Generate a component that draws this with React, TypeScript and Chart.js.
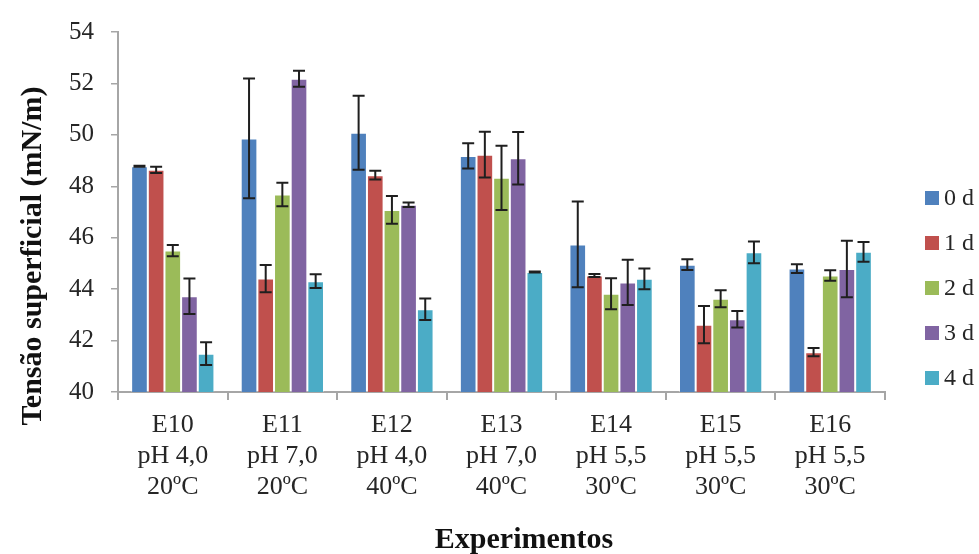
import React, { useEffect, useRef } from "react";
import { Chart, registerables } from "chart.js";

Chart.register(...registerables);

const categories: string[][] = [
  ["E10", "pH 4,0", "20ºC"],
  ["E11", "pH 7,0", "20ºC"],
  ["E12", "pH 4,0", "40ºC"],
  ["E13", "pH 7,0", "40ºC"],
  ["E14", "pH 5,5", "30ºC"],
  ["E15", "pH 5,5", "30ºC"],
  ["E16", "pH 5,5", "30ºC"],
];

const seriesNames = ["0 d", "1 d", "2 d", "3 d", "4 d"];
const seriesColors = ["#4F81BD", "#C0504D", "#9BBB59", "#8064A2", "#4BACC6"];

const day0 = [48.78, 49.86, 50.08, 49.18, 45.74, 44.95, 44.8];
const day1 = [48.64, 44.41, 48.43, 49.23, 44.53, 42.62, 41.55];
const day2 = [45.5, 47.68, 47.08, 48.33, 43.82, 43.63, 44.53];
const day3 = [43.72, 52.18, 47.28, 49.09, 44.26, 42.83, 44.78];
const day4 = [41.49, 44.31, 43.22, 44.67, 44.4, 45.43, 45.45];

const err0 = [0.02, 2.33, 1.44, 0.49, 1.67, 0.21, 0.17];
const err1 = [0.12, 0.53, 0.17, 0.89, 0.06, 0.72, 0.16];
const err2 = [0.22, 0.46, 0.54, 1.25, 0.6, 0.33, 0.2];
const err3 = [0.69, 0.31, 0.09, 1.02, 0.88, 0.32, 1.1];
const err4 = [0.44, 0.27, 0.42, 0.02, 0.4, 0.42, 0.38];

const yTicks = [40, 42, 44, 46, 48, 50, 52, 54];

const values = [day0, day1, day2, day3, day4];
const errors = [err0, err1, err2, err3, err4];

const FONT = "'Liberation Serif', 'Times New Roman', serif";
const TEXT = "#262626";
const AXIS = "#A6A6A6";

const errorBarPlugin = {
  id: "errorBars",
  afterDatasetsDraw(chart: any) {
    const ctx = chart.ctx;
    const yScale = chart.scales.y;
    ctx.save();
    ctx.strokeStyle = "#1F1F1F";
    ctx.lineWidth = 2;
    chart.data.datasets.forEach((ds: any, i: number) => {
      const meta = chart.getDatasetMeta(i);
      meta.data.forEach((bar: any, j: number) => {
        const v = ds.data[j];
        const e = errors[i][j];
        const x = bar.x;
        const yTop = yScale.getPixelForValue(v + e);
        const yBot = yScale.getPixelForValue(v - e);
        const cap = 6;
        ctx.beginPath();
        ctx.moveTo(x, yTop);
        ctx.lineTo(x, yBot);
        ctx.moveTo(x - cap, yTop);
        ctx.lineTo(x + cap, yTop);
        ctx.moveTo(x - cap, yBot);
        ctx.lineTo(x + cap, yBot);
        ctx.stroke();
      });
    });
    ctx.restore();
  },
};

const decorPlugin = {
  id: "decor",
  afterDraw(chart: any) {
    const ctx = chart.ctx;
    ctx.save();
    // legend
    ctx.font = `24px ${FONT}`;
    ctx.textBaseline = "middle";
    ctx.textAlign = "left";
    seriesNames.forEach((name, i) => {
      const cy = 198 + i * 45;
      ctx.fillStyle = seriesColors[i];
      ctx.fillRect(925, cy - 7, 14, 14);
      ctx.fillStyle = TEXT;
      ctx.fillText(name, 944, cy + 1);
    });
    // axis titles
    ctx.font = `bold 30px ${FONT}`;
    ctx.fillStyle = "#111";
    ctx.textAlign = "center";
    ctx.textBaseline = "alphabetic";
    ctx.fillText("Experimentos", 524, 548);
    ctx.font = `bold 30px ${FONT}`;
    ctx.textBaseline = "alphabetic";
    ctx.translate(41, 256);
    ctx.rotate(-Math.PI / 2);
    ctx.fillText("Tensão superficial (mN/m)", 0, 0);
    ctx.restore();
  },
};

export default function App() {
  const ref = useRef<HTMLCanvasElement>(null);
  useEffect(() => {
    if (!ref.current) return;
    const chart = new Chart(ref.current, {
      type: "bar",
      data: {
        labels: categories,
        datasets: seriesNames.map((name, i) => ({
          label: name,
          data: values[i],
          backgroundColor: seriesColors[i],
          borderColor: "rgba(255,255,255,0.35)",
          borderWidth: 1,
          categoryPercentage: 0.76,
          barPercentage: 1,
        })),
      },
      options: {
        animation: false,
        responsive: false,
        maintainAspectRatio: false,
        layout: { padding: { left: 0, right: 94, top: 28, bottom: 0 } },
        plugins: {
          legend: { display: false },
          tooltip: { enabled: false },
        },
        scales: {
          x: {
            grid: {
              display: true,
              drawOnChartArea: false,
              drawTicks: true,
              tickLength: 8,
              color: AXIS,
              lineWidth: 2,
              offset: true,
            },
            border: { display: true, color: AXIS, width: 2 },
            ticks: {
              color: TEXT,
              font: { family: FONT, size: 26, lineHeight: 1.19 },
              padding: 10,
              maxRotation: 0,
              autoSkip: false,
            },
            afterFit(scale: any) {
              scale.height = 554 - 392;
            },
          },
          y: {
            min: 40,
            max: 54,
            afterBuildTicks(scale: any) {
              scale.ticks = yTicks.map((v) => ({ value: v }));
            },
            grid: {
              display: true,
              drawOnChartArea: false,
              drawTicks: true,
              tickLength: 7,
              color: AXIS,
              lineWidth: 1.5,
            },
            border: { display: true, color: AXIS, width: 2 },
            ticks: {
              color: TEXT,
              font: { family: FONT, size: 25 },
              padding: 17,
            },
            afterFit(scale: any) {
              scale.width = 118;
            },
          },
        },
      },
      plugins: [errorBarPlugin, decorPlugin],
    });
    return () => chart.destroy();
  }, []);
  return (
    <div style={{ position: "absolute", left: 0, top: 0, width: 979, height: 554 }}>
      <canvas ref={ref} width={979} height={554} />
    </div>
  );
}
